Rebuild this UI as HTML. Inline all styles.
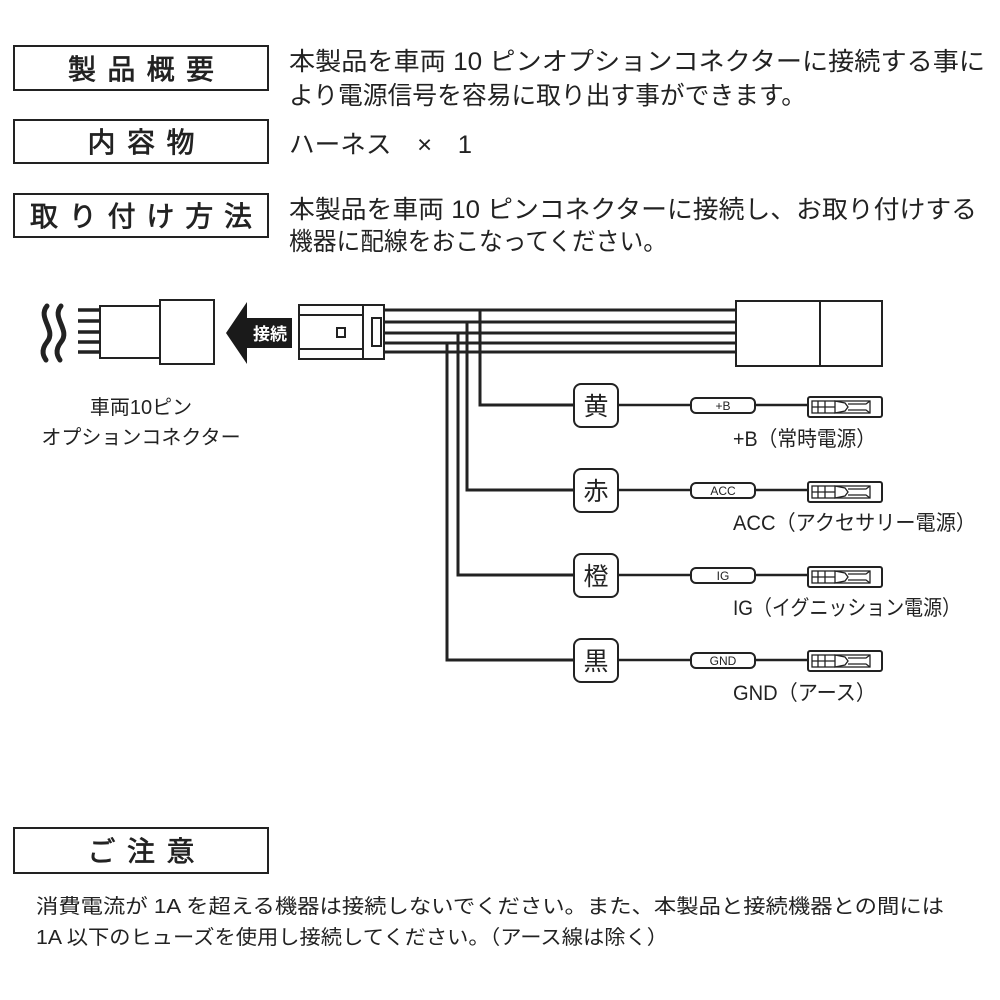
<!DOCTYPE html>
<html><head><meta charset="utf-8"><style>body{margin:0;background:#fff}svg{display:block}</style></head>
<body>
<svg width="1000" height="1000" viewBox="0 0 1000 1000" xmlns="http://www.w3.org/2000/svg" font-family="'Liberation Sans','Noto Sans CJK JP',sans-serif" fill="#222">
<defs>
<g id="term">
 <rect x="808" y="-10" width="74" height="20" rx="2" fill="#fff" stroke="#222" stroke-width="2"/>
 <rect x="812" y="-6" width="58" height="12" fill="none" stroke="#222" stroke-width="1.3"/>
 <line x1="818" y1="-6" x2="818" y2="6" stroke="#222" stroke-width="1.3"/>
 <line x1="825" y1="-6" x2="825" y2="6" stroke="#222" stroke-width="1.3"/>
 <line x1="812" y1="0" x2="835" y2="0" stroke="#222" stroke-width="1.3"/>
 <path d="M835 -6 L845 -4 L848 0 L845 4 L835 6 Z" fill="none" stroke="#222" stroke-width="1.3"/>
 <path d="M848 -3 L866 -3 L870 -6 M848 3 L866 3 L870 6" fill="none" stroke="#222" stroke-width="1.3"/>
</g>
</defs>
<g fill="none" stroke="#222" stroke-width="2">
 <rect x="14" y="46" width="254" height="44"/>
 <rect x="14" y="120" width="254" height="43"/>
 <rect x="14" y="194" width="254" height="43"/>
 <rect x="14" y="828" width="254" height="45"/>
</g>
<g font-size="28" text-anchor="middle" stroke="#222" stroke-width="0.7">
 <text x="141" y="79" textLength="146" lengthAdjust="spacing">製品概要</text>
 <text x="141" y="152" textLength="107" lengthAdjust="spacing">内容物</text>
 <text x="141" y="226" textLength="222" lengthAdjust="spacing">取り付け方法</text>
 <text x="141" y="861" textLength="107" lengthAdjust="spacing">ご注意</text>
</g>
<g font-size="25">
 <text x="289" y="70" textLength="696" lengthAdjust="spacingAndGlyphs">本製品を車両 10 ピンオプションコネクターに接続する事に</text>
 <text x="289" y="104" textLength="517" lengthAdjust="spacingAndGlyphs">より電源信号を容易に取り出す事ができます。</text>
 <text x="289" y="153" textLength="183" lengthAdjust="spacingAndGlyphs">ハーネス　×　1</text>
 <text x="289" y="218" textLength="688" lengthAdjust="spacingAndGlyphs">本製品を車両 10 ピンコネクターに接続し、お取り付けする</text>
 <text x="289" y="250" textLength="378" lengthAdjust="spacingAndGlyphs">機器に配線をおこなってください。</text>
</g>
<!-- left connector -->
<g fill="none" stroke="#222" stroke-width="5" stroke-linecap="round">
 <path d="M47 306 C37 318 57 330 47 342 C40 351 44 357 46 360"/>
 <path d="M61 306 C51 318 71 330 61 342 C54 351 58 357 60 360"/>
</g>
<g stroke="#222" stroke-width="3.5">
 <line x1="78" y1="310" x2="100" y2="310"/><line x1="78" y1="321" x2="100" y2="321"/>
 <line x1="78" y1="332" x2="100" y2="332"/><line x1="78" y1="342" x2="100" y2="342"/>
 <line x1="78" y1="352" x2="100" y2="352"/>
</g>
<g fill="#fff" stroke="#222" stroke-width="2">
 <rect x="100" y="306" width="60" height="52"/>
 <rect x="160" y="300" width="54" height="64"/>
</g>
<path d="M226 333 L247 302 L247 318 L292 318 L292 348 L247 348 L247 364 Z" fill="#1a1a1a"/>
<text x="270" y="340" font-size="17" fill="#fff" text-anchor="middle" font-weight="bold">接続</text>
<text x="141" y="414" font-size="20" text-anchor="middle">車両10ピン</text>
<text x="141" y="444" font-size="20" text-anchor="middle">オプションコネクター</text>
<!-- harness wires -->
<g stroke="#222" stroke-width="3" fill="none">
 <line x1="384" y1="310" x2="736" y2="310"/><line x1="384" y1="322" x2="736" y2="322"/>
 <line x1="384" y1="333" x2="736" y2="333"/><line x1="384" y1="343" x2="736" y2="343"/>
 <line x1="384" y1="352" x2="736" y2="352"/>
 <path d="M480 310 V405 H575"/>
 <path d="M467 322 V490 H575"/>
 <path d="M458 333 V575 H575"/>
 <path d="M447 343 V660 H575"/>
</g>
<g fill="#fff" stroke="#222" stroke-width="2">
 <rect x="299" y="305" width="85" height="54"/>
 <line x1="299" y1="315" x2="363" y2="315"/><line x1="299" y1="349" x2="363" y2="349"/>
 <line x1="363" y1="305" x2="363" y2="359"/>
 <rect x="337" y="328" width="8" height="9"/>
 <rect x="372" y="318" width="9" height="28"/>
 <rect x="736" y="301" width="84" height="65"/>
 <rect x="820" y="301" width="62" height="65"/>
</g>
<!-- rows -->
<g stroke="#222" stroke-width="2.5">
 <line x1="618" y1="405" x2="808" y2="405"/>
 <line x1="618" y1="490" x2="808" y2="490"/>
 <line x1="618" y1="575" x2="808" y2="575"/>
 <line x1="618" y1="660" x2="808" y2="660"/>
</g>
<g fill="#fff" stroke="#222" stroke-width="2">
 <rect x="574" y="384" width="44" height="43" rx="7"/>
 <rect x="574" y="469" width="44" height="43" rx="7"/>
 <rect x="574" y="554" width="44" height="43" rx="7"/>
 <rect x="574" y="639" width="44" height="43" rx="7"/>
 <rect x="691" y="398" width="64" height="15" rx="5"/>
 <rect x="691" y="483" width="64" height="15" rx="5"/>
 <rect x="691" y="568" width="64" height="15" rx="5"/>
 <rect x="691" y="653" width="64" height="15" rx="5"/>
</g>
<g font-size="25" text-anchor="middle">
 <text x="596" y="415">黄</text><text x="596" y="500">赤</text>
 <text x="596" y="585">橙</text><text x="596" y="670">黒</text>
</g>
<g font-size="12" text-anchor="middle">
 <text x="723" y="410">+B</text><text x="723" y="495">ACC</text>
 <text x="723" y="580">IG</text><text x="723" y="665">GND</text>
</g>
<use href="#term" transform="translate(0,407)"/>
<use href="#term" transform="translate(0,492)"/>
<use href="#term" transform="translate(0,577)"/>
<use href="#term" transform="translate(0,661)"/>
<g font-size="21">
 <text x="733" y="446" textLength="143" lengthAdjust="spacingAndGlyphs">+B（常時電源）</text>
 <text x="733" y="530" textLength="243" lengthAdjust="spacingAndGlyphs">ACC（アクセサリー電源）</text>
 <text x="733" y="615" textLength="228" lengthAdjust="spacingAndGlyphs">IG（イグニッション電源）</text>
 <text x="733" y="700" textLength="143" lengthAdjust="spacingAndGlyphs">GND（アース）</text>
</g>
<g font-size="20">
 <text x="36" y="913" textLength="908" lengthAdjust="spacingAndGlyphs">消費電流が 1A を超える機器は接続しないでください。また、本製品と接続機器との間には</text>
 <text x="36" y="944" textLength="632" lengthAdjust="spacingAndGlyphs">1A 以下のヒューズを使用し接続してください。（アース線は除く）</text>
</g>
</svg>
</body></html>
